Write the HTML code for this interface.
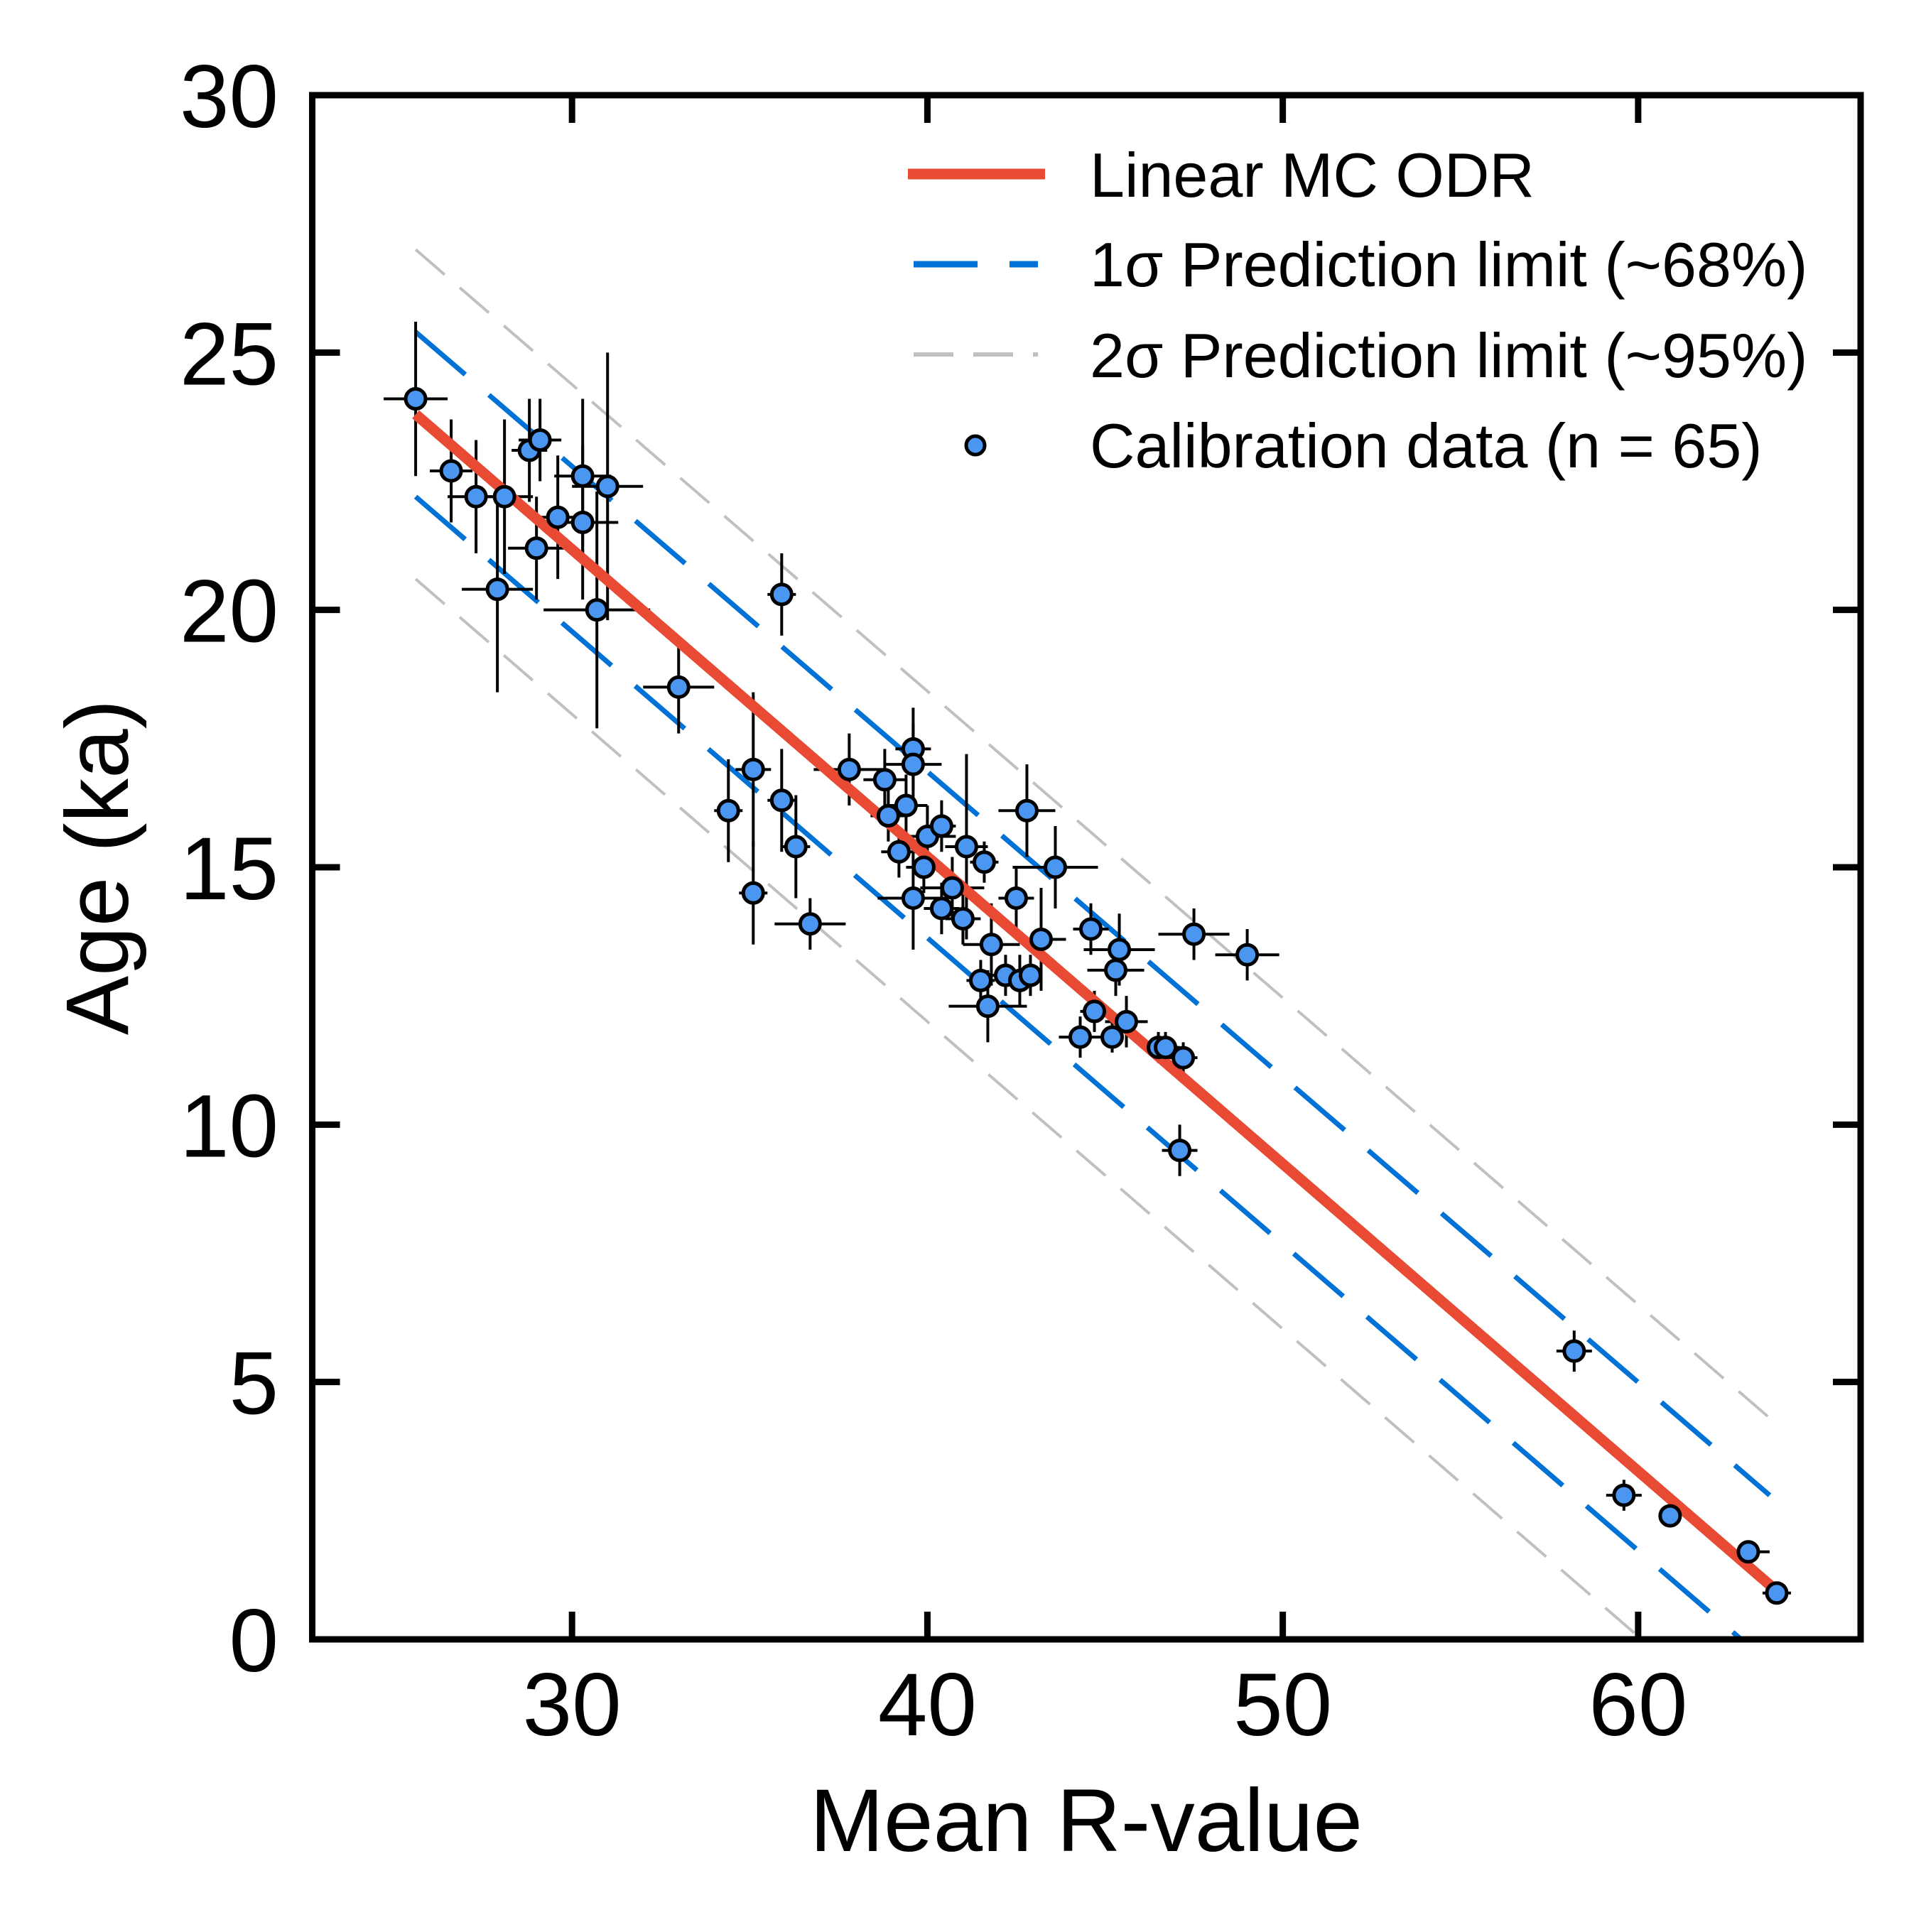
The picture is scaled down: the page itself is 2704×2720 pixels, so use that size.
<!DOCTYPE html>
<html><head><meta charset="utf-8">
<style>
html,body{margin:0;padding:0;background:#fff;}
svg{display:block;}
text{font-family:"Liberation Sans",Arial,sans-serif;fill:#000;}
</style></head>
<body>
<svg id="chart" width="2704" height="2720" viewBox="0 0 2704 2720" xmlns="http://www.w3.org/2000/svg">
<g id="grid-layer"></g>
<text x="1529" y="2606" font-size="125" text-anchor="middle">Mean R-value</text>
<text x="180" y="1221" font-size="125" text-anchor="middle" transform="rotate(-90 180 1221)">Age (ka)</text>
<g>
  <line x1="1278" y1="245" x2="1471" y2="245" stroke="#e84a33" stroke-width="15"/>
  <text x="1534" y="277" font-size="88">Linear MC ODR</text>
  <line x1="1286" y1="372" x2="1461" y2="372" stroke="#0072d6" stroke-width="9" stroke-dasharray="90 45"/>
  <text x="1534" y="403" font-size="88">1σ Prediction limit (~68%)</text>
  <line x1="1286" y1="499" x2="1461" y2="499" stroke="#c0c0c0" stroke-width="6" stroke-dasharray="56 28"/>
  <text x="1534" y="531" font-size="88">2σ Prediction limit (~95%)</text>
  <circle cx="1373" cy="627" r="13" fill="#4a96f0" stroke="#000" stroke-width="5"/>
  <text x="1534" y="658" font-size="88">Calibration data (n = 65)</text>
</g>
</svg>
<script>
const xVals=[25.6,26.6,27.3,28.1,27.9,28.8,29.0,29.1,29.6,30.3,30.3,30.7,31.0,33.0,35.9,34.4,35.1,35.1,35.9,36.3,36.7,37.8,38.8,38.9,39.2,39.4,39.6,39.6,39.6,40.0,40.4,40.7,41.0,41.1,41.5,41.6,41.7,41.8,42.2,42.5,42.6,42.8,42.9,43.2,43.6,44.3,44.6,44.7,45.2,45.3,45.4,45.6,46.5,46.7,47.1,47.2,47.5,49.0,58.2,59.6,60.9,63.1,63.9,39.9,40.4];
const yVals=[24.1,22.7,22.2,22.2,20.4,23.1,21.2,23.3,21.8,22.6,21.7,20.0,22.4,18.5,20.3,16.1,16.9,14.5,16.3,15.4,13.9,16.9,16.7,16.0,15.3,16.2,17.3,17.0,14.4,15.6,15.8,14.6,14.0,15.4,12.8,15.1,12.3,13.5,12.9,14.4,12.8,16.1,12.9,13.6,15.0,11.7,13.8,12.2,11.7,13.0,13.4,12.0,11.5,11.5,9.5,11.3,13.7,13.3,5.6,2.8,2.4,1.7,0.9,15.0,14.2];
const xErr=[0.9,0.6,0.8,0.8,1.0,0.5,0.8,0.6,0.6,0.8,1.0,1.5,1.0,1.0,0.4,0.4,0.5,0.4,0.4,0.4,1.0,1.0,0.6,0.5,0.5,0.6,0.5,0.8,1.0,0.8,0.4,0.9,0.5,0.6,0.4,0.4,1.1,0.8,0.5,0.5,0.6,0.8,0.3,0.7,1.2,0.6,0.5,0.4,0.3,0.8,1.0,0.6,0.3,0.4,0.5,0.4,1.0,0.9,0.5,0.5,0.3,0.6,0.4,0.5,0.5];
const yErr=[1.5,1.0,1.1,1.5,2.0,1.0,1.0,0.8,1.2,1.5,1.5,2.3,2.6,0.9,0.8,1.0,1.5,1.0,1.0,1.0,0.5,0.7,0.6,0.5,0.5,0.6,0.8,0.8,1.0,0.6,0.5,0.6,0.5,1.8,0.4,0.4,0.7,0.8,0.4,0.6,0.5,0.9,0.4,1.0,0.8,0.4,0.5,0.4,0.3,0.5,0.7,0.5,0.3,0.3,0.5,0.3,0.5,0.5,0.4,0.3,0.2,0.2,0.1,0.5,0.5];
const fitX=[25.6,63.8];
const fitY=[23.8,1.0];
const up1X=[25.6,63.7]; const up1Y=[25.4,2.8];
const lo1X=[25.6,62.9]; const lo1Y=[22.2,0.0];
const up2X=[25.6,63.7]; const up2Y=[27.0,4.3];
const lo2X=[25.6,60.1]; const lo2Y=[20.6,0.0];
const xTicks=[30,40,50,60];
const yTicks=[0,5,10,15,20,25,30];

const X0=439.5,X1=2619,Y0=2308,Y1=134;
const xMin=22.69,xMax=66.26,yMin=0,yMax=30;
function sx(v){return X0+(v-xMin)/(xMax-xMin)*(X1-X0);}
function sy(v){return Y0-(v-yMin)/(yMax-yMin)*(Y0-Y1);}
const NS='http://www.w3.org/2000/svg';
const svg=document.getElementById('chart');
const g=document.getElementById('grid-layer');
function mk(tag,attrs,parent){const e=document.createElementNS(NS,tag);for(const k in attrs)e.setAttribute(k,attrs[k]);(parent||g).appendChild(e);return e;}

function line(xs,ys,stroke,w,dash,name){
  const e=mk('line',{x1:sx(xs[0]),y1:sy(ys[0]),x2:sx(xs[1]),y2:sy(ys[1]),stroke:stroke,'stroke-width':w});
  if(dash)e.setAttribute('stroke-dasharray',dash);
  
  
}
line(up2X,up2Y,'#c0c0c0',4,'54 28','upper-2sigma-limit');
line(lo2X,lo2Y,'#c0c0c0',4,'54 28','lower-2sigma-limit');
line(up1X,up1Y,'#0072d6',7,'92 44','upper-1sigma-limit');
line(lo1X,lo1Y,'#0072d6',7,'92 44','lower-1sigma-limit');

for(let i=0;i<xVals.length;i++){
  const eg=mk('g',{});
  
  
  mk('line',{x1:sx(xVals[i]-xErr[i]),x2:sx(xVals[i]+xErr[i]),y1:sy(yVals[i]),y2:sy(yVals[i]),stroke:'#000','stroke-width':4},eg);
  mk('line',{x1:sx(xVals[i]),x2:sx(xVals[i]),y1:sy(yVals[i]-yErr[i]),y2:sy(yVals[i]+yErr[i]),stroke:'#000','stroke-width':4},eg);
}
line(fitX,fitY,'#e84a33',15,null,'fit-line');
for(let i=0;i<xVals.length;i++){
  const c=mk('circle',{cx:sx(xVals[i]),cy:sy(yVals[i]),r:14,fill:'#4a96f0',stroke:'#000','stroke-width':5});
  
  
}
const fr=mk('rect',{x:X0,y:Y1,width:X1-X0,height:Y0-Y1,fill:'none',stroke:'#000','stroke-width':9});


for(const t of xTicks){
  const x=sx(t);
  const a=mk('line',{x1:x,x2:x,y1:Y0,y2:Y0-39,stroke:'#000','stroke-width':9});
  
  
  const b=mk('line',{x1:x,x2:x,y1:Y1,y2:Y1+39,stroke:'#000','stroke-width':9});
  
  
  const l=mk('text',{x:x,y:2443,'font-size':125,'text-anchor':'middle'});
  l.textContent=t;
  
  
}
for(const t of yTicks){
  const y=sy(t);
  const a=mk('line',{x1:X0,x2:X0+39,y1:y,y2:y,stroke:'#000','stroke-width':9});
  
  
  const b=mk('line',{x1:X1,x2:X1-39,y1:y,y2:y,stroke:'#000','stroke-width':9});
  
  
  const l=mk('text',{x:392,y:y+45,'font-size':125,'text-anchor':'end'});
  l.textContent=t;
  
  
}
</script>
</body></html>
